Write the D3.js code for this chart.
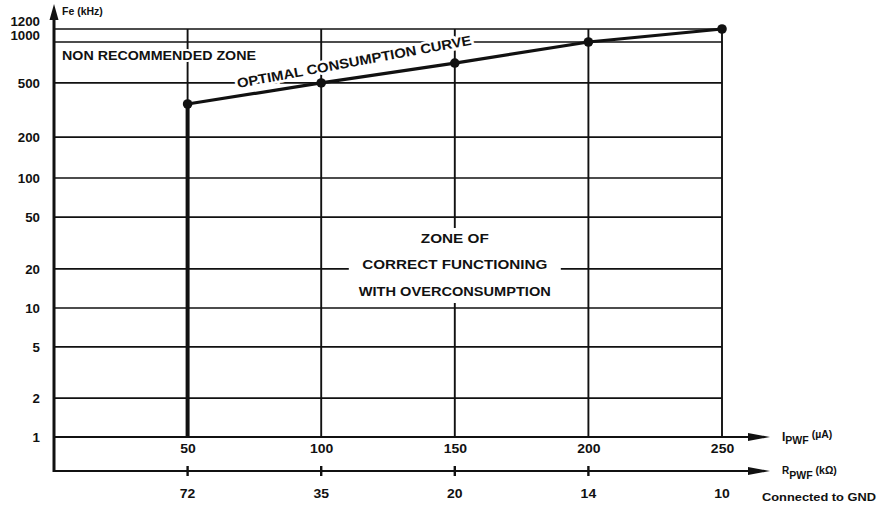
<!DOCTYPE html>
<html>
<head>
<meta charset="utf-8">
<script src="https://cdn.jsdelivr.net/npm/d3@7"></script>
<style>
  html, body { margin: 0; padding: 0; background: #fff; }
  svg { display: block; }
  text { font-family: "Liberation Sans", Arial, Helvetica, sans-serif; font-weight: bold; fill: #111; }
</style>
</head>
<body>
<svg id="chart" width="881" height="510"></svg>
<script>
// ---- data ----
const currentValues = [50, 100, 150, 200, 250];          // I_PWF (µA)
const freqValues    = [350, 500, 700, 1000, 1200];       // Fe (kHz), optimal consumption curve
const resistLabels  = ["72", "35", "20", "14", "10"];    // R_PWF (kΩ)
const yTickValues   = [1, 2, 5, 10, 20, 50, 100, 200, 500, 1000, 1200];
const xTickValues   = [50, 100, 150, 200, 250];

const svg = d3.select("#chart");
const ink = "#111";
const FF = "Liberation Sans, Arial, sans-serif";

// scales (log scale, piecewise to follow the hand-drawn grid)
const x = d3.scaleLinear().domain([0, 250]).range([54, 722]);
const y = d3.scaleLog().domain([1, 10, 100, 1000, 1200]).range([437, 308, 178, 42, 29]);

const rAxisY = 471;
const arrowEnd = 770;
const digitW = 7.4;

// horizontal grid lines
svg.append("g").selectAll("line")
  .data(yTickValues.filter(d => d !== 1))
  .join("line")
  .attr("x1", x(0)).attr("x2", x(250))
  .attr("y1", d => y(d)).attr("y2", d => y(d))
  .attr("stroke", ink).attr("stroke-width", 1.7);

// vertical grid lines
svg.append("g").selectAll("line")
  .data(xTickValues)
  .join("line")
  .attr("x1", d => x(d)).attr("x2", d => x(d))
  .attr("y1", y(1)).attr("y2", y(1200))
  .attr("stroke", ink).attr("stroke-width", 1.9);

// I axis line
svg.append("line")
  .attr("x1", x(0)).attr("x2", arrowEnd - 10)
  .attr("y1", y(1)).attr("y2", y(1))
  .attr("stroke", ink).attr("stroke-width", 2);
// R axis line
svg.append("line")
  .attr("x1", x(0)).attr("x2", arrowEnd - 10)
  .attr("y1", rAxisY).attr("y2", rAxisY)
  .attr("stroke", ink).attr("stroke-width", 2);
// R axis tick crosses
svg.append("g").selectAll("line")
  .data(currentValues.slice(0, 4))
  .join("line")
  .attr("x1", d => x(d)).attr("x2", d => x(d))
  .attr("y1", rAxisY - 5).attr("y2", rAxisY + 5)
  .attr("stroke", ink).attr("stroke-width", 2.4);

// left axis line
svg.append("line")
  .attr("x1", x(0)).attr("x2", x(0))
  .attr("y1", 12).attr("y2", rAxisY + 1)
  .attr("stroke", ink).attr("stroke-width", 3);

// arrows
svg.append("path")
  .attr("d", `M${x(0)},4 L${x(0) + 4.5},20 L${x(0) - 4.5},20 Z`)
  .attr("fill", ink);
[y(1), rAxisY].forEach(yy => {
  svg.append("path")
    .attr("d", `M${arrowEnd},${yy} L${arrowEnd - 22},${yy - 4} L${arrowEnd - 22},${yy + 4} Z`)
    .attr("fill", ink);
});

// boundary: thick line at first current value from curve down to axis
svg.append("line")
  .attr("x1", x(currentValues[0])).attr("x2", x(currentValues[0]))
  .attr("y1", y(freqValues[0])).attr("y2", y(1))
  .attr("stroke", ink).attr("stroke-width", 4);

// optimal consumption curve
const pts = currentValues.map((c, i) => [c, freqValues[i]]);
svg.append("path")
  .datum(pts)
  .attr("d", d3.line().x(d => x(d[0])).y(d => y(d[1])))
  .attr("fill", "none").attr("stroke", ink).attr("stroke-width", 3.2);
svg.append("g").selectAll("circle")
  .data(pts)
  .join("circle")
  .attr("cx", d => x(d[0])).attr("cy", d => y(d[1]))
  .attr("r", 4.8).attr("fill", ink);

// y axis labels
const yAxis = svg.append("g")
  .attr("transform", `translate(${x(0)},0)`)
  .call(d3.axisLeft(y).tickValues(yTickValues).tickSize(0).tickPadding(14)
        .tickFormat(d => String(d)));
yAxis.select(".domain").remove();
yAxis.selectAll("text")
  .attr("font-size", 13).attr("font-family", FF)
  .attr("font-weight", "bold").attr("fill", ink)
  .attr("textLength", d => String(d).length * digitW).attr("lengthAdjust", "spacingAndGlyphs")
  .attr("dy", d => d === 1200 ? "-0.25em" : d === 1000 ? "-0.2em" : "0.34em");

// I axis labels
const xAxis = svg.append("g")
  .attr("transform", `translate(0,${y(1)})`)
  .call(d3.axisBottom(x).tickValues(xTickValues).tickSize(0).tickPadding(7));
xAxis.select(".domain").remove();
xAxis.selectAll("text")
  .attr("font-size", 13).attr("font-family", FF)
  .attr("font-weight", "bold").attr("fill", ink)
  .attr("textLength", d => String(d).length * digitW * 1.05).attr("lengthAdjust", "spacingAndGlyphs");

// R axis labels
svg.append("g").selectAll("text")
  .data(resistLabels)
  .join("text")
  .attr("x", (d, i) => x(currentValues[i]))
  .attr("y", 498)
  .attr("text-anchor", "middle")
  .attr("font-size", 13)
  .attr("textLength", d => d.length * digitW * 1.05).attr("lengthAdjust", "spacingAndGlyphs")
  .text(d => d);

// axis titles
svg.append("text").attr("x", 62).attr("y", 15).attr("font-size", 10.5).text("Fe (kHz)");

const iLab = svg.append("text").attr("x", 782).attr("y", 441).attr("font-size", 12);
iLab.append("tspan").text("I");
iLab.append("tspan").attr("dy", 3).attr("font-size", 10.5).text("PWF");
iLab.append("tspan").attr("dy", -6).attr("dx", 3).attr("font-size", 10.5).text("(µA)");

const rLab = svg.append("text").attr("x", 782).attr("y", 474).attr("font-size", 10);
rLab.append("tspan").text("R");
rLab.append("tspan").attr("dy", 5).attr("font-size", 10.5).text("PWF");
rLab.append("tspan").attr("dy", -5).attr("dx", 3).attr("font-size", 10.5).text("(kΩ)");

svg.append("text").attr("x", 762).attr("y", 501).attr("font-size", 11.5)
  .attr("textLength", 114).attr("lengthAdjust", "spacingAndGlyphs").text("Connected to GND");

// zone labels
svg.append("text").attr("x", 62).attr("y", 60).attr("font-size", 13)
  .attr("textLength", 194).attr("lengthAdjust", "spacingAndGlyphs")
  .attr("stroke", "#fff").attr("stroke-width", 4).attr("paint-order", "stroke")
  .text("NON RECOMMENDED ZONE");

svg.append("text")
  .attr("transform", "translate(238,88) rotate(-10.5)")
  .attr("font-size", 13.5)
  .attr("textLength", 238).attr("lengthAdjust", "spacingAndGlyphs")
  .attr("stroke", "#fff").attr("stroke-width", 5).attr("paint-order", "stroke")
  .text("OPTIMAL CONSUMPTION CURVE");

const zone = svg.append("g");
const zoneLines = [["ZONE OF", 243, 68], ["CORRECT FUNCTIONING", 269, 185], ["WITH OVERCONSUMPTION", 296, 192]];
zone.selectAll("text").data(zoneLines).join("text")
  .attr("x", x(150)).attr("y", d => d[1])
  .attr("text-anchor", "middle").attr("font-size", 12.5)
  .attr("textLength", d => d[2]).attr("lengthAdjust", "spacingAndGlyphs")
  .text(d => d[0]);
const bb = zone.node().getBBox();
zone.insert("rect", "text")
  .attr("x", bb.x - 10).attr("y", bb.y - 4)
  .attr("width", bb.width + 20).attr("height", bb.height + 8)
  .attr("fill", "#fff");
</script>
</body>
</html>
